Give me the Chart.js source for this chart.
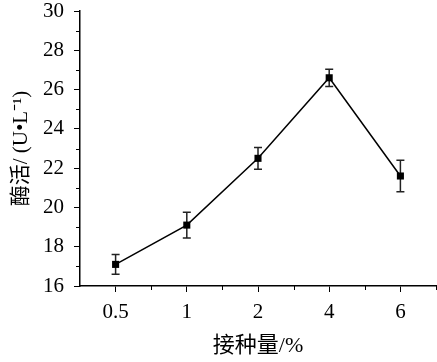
<!DOCTYPE html>
<html>
<head>
<meta charset="utf-8">
<script src="https://cdn.jsdelivr.net/npm/chart.js@4"></script>
<style>
  html, body { margin: 0; padding: 0; background: #fff; }
  #wrap { width: 437px; height: 362px; }
</style>
</head>
<body>
<div id="wrap"><canvas id="enzymeChart"></canvas></div>
<script>
// data
const inoculum = ['0.5', '1', '2', '4', '6'];
const activity = [17.1, 19.1, 22.5, 26.6, 21.6];
const errors = [0.5, 0.65, 0.55, 0.44, 0.8];
const yTicks = [16, 18, 20, 22, 24, 26, 28, 30];

const serif = "'Liberation Serif', 'Noto Sans CJK SC', serif";

// error bars + minor ticks
const extras = {
    id: 'extras',
    beforeDatasetsDraw(chart) {
        const ctx = chart.ctx;
        const x = chart.scales.x;
        const y = chart.scales.y;
        ctx.save();
        ctx.strokeStyle = '#222';
        ctx.lineWidth = 1.5;
        activity.forEach((v, i) => {
            const px = x.getPixelForValue(i);
            const top = y.getPixelForValue(v + errors[i]);
            const bot = y.getPixelForValue(v - errors[i]);
            ctx.beginPath();
            ctx.moveTo(px, top); ctx.lineTo(px, bot);
            ctx.moveTo(px - 4, top); ctx.lineTo(px + 4, top);
            ctx.moveTo(px - 4, bot); ctx.lineTo(px + 4, bot);
            ctx.stroke();
        });
        ctx.restore();
    },
    afterDraw(chart) {
        const ctx = chart.ctx;
        const x = chart.scales.x;
        const y = chart.scales.y;
        ctx.save();
        ctx.strokeStyle = '#000';
        ctx.lineWidth = 1;
        ctx.beginPath();
        for (let v = 17; v < 30; v += 2) {
            const py = Math.round(y.getPixelForValue(v)) + 0.5;
            ctx.moveTo(y.right - 4, py); ctx.lineTo(y.right, py);
        }
        for (let i = 0; i < inoculum.length; i++) {
            const px = Math.round(x.getPixelForValue(i + 0.5)) + 0.5;
            ctx.moveTo(px, x.top); ctx.lineTo(px, x.top + 4);
        }
        ctx.stroke();
        ctx.restore();
    }
};

new Chart(document.getElementById('enzymeChart'), {
    type: 'line',
    data: {
        labels: inoculum,
        datasets: [{
            data: activity,
            borderColor: '#000',
            backgroundColor: '#000',
            borderWidth: 1.5,
            pointStyle: 'rect',
            pointRadius: 5,
            pointBackgroundColor: '#000',
            pointBorderWidth: 0,
            tension: 0,
            fill: false
        }]
    },
    options: {
        responsive: true,
        maintainAspectRatio: false,
        animation: false,
        layout: { autoPadding: false, padding: { top: 11, right: 1, left: 0, bottom: 0 } },
        plugins: {
            legend: { display: false },
            tooltip: { enabled: false }
        },
        scales: {
            x: {
                offset: true,
                afterFit(scale) {
                    scale.height = 76;
                    scale.paddingRight = 0;
                    scale.paddingLeft = 0;
                },
                border: { color: '#000', width: 1.5 },
                grid: { drawOnChartArea: false, color: 'transparent', tickColor: '#000', tickLength: 6, offset: false },
                ticks: { color: '#000', padding: 8, font: { family: serif, size: 21 } },
                title: {
                    display: true,
                    text: '接种量/%',
                    color: '#000',
                    font: { family: serif, size: 22 },
                    padding: { top: 0, bottom: 3 }
                }
            },
            y: {
                min: 16,
                max: 30,
                afterFit(scale) {
                    scale.width = 80;
                    scale.paddingTop = 0;
                    scale.paddingBottom = 0;
                },
                afterBuildTicks(scale) { scale.ticks = yTicks.map(v => ({ value: v })); },
                border: { color: '#000', width: 1.5 },
                grid: { drawOnChartArea: false, color: 'transparent', tickColor: '#000', tickLength: 6 },
                ticks: { color: '#000', padding: 10, font: { family: serif, size: 21 } },
                title: {
                    display: true,
                    text: '酶活/ (U•L⁻¹)',
                    color: '#000',
                    font: { family: serif, size: 21 },
                    padding: { top: 9, bottom: 0 }
                }
            }
        }
    },
    plugins: [extras]
});
</script>
</body>
</html>
